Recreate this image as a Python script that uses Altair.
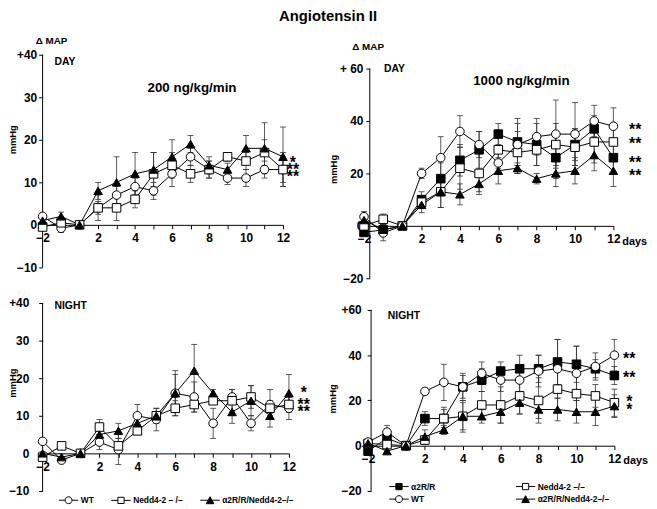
import altair as alt
import pandas as pd

FONT = "Liberation Sans"

# study days (evenly spaced on the axis) and their positions
days = ["-2", "-1", "1", "2", "3", "4", "5", "6", "7", "8", "9", "10", "11", "12"]
x_pos = [-1, 0, 1, 2, 3, 4, 5, 6, 7, 8, 9, 10, 11, 12]

WT = "WT"
NEDD = "Nedd4-2 –/–"
A2R = "α2R/R"
A2RN = "α2R/R/Nedd4-2–/–"

# ---- DAY, 200 ng/kg/min ----
day200_wt = [2, -0.8, 0, 4, 7, 9, 8, 12, 16, 13, 11, 11, 13, 13]
day200_wt_err = [0.5, 1, 0, 1.5, 2, 2, 2, 3, 2, 2, 1.5, 2, 2, 4]
day200_nedd = [-0.5, 0.5, 0, 4, 4, 6, 12, 14, 12, 13, 16, 15, 17, 13]
day200_nedd_err = [0.5, 1, 0, 3, 3, 2, 5, 3, 2, 2, 1, 2, 3, 3]
day200_a2rn = [1, 2, 0, 8, 10, 12, 13, 16, 19, 14, 13, 18, 18, 16]
day200_a2rn_err = [1, 1, 0, 2, 6, 5, 4, 4, 2, 2, 1.5, 3, 6, 7]

# ---- DAY, 1000 ng/kg/min ----
day1000_wt = [3.5, -2.7, 0, 20, 26, 36, 31, 24, 31, 34, 35, 35, 40, 38]
day1000_wt_err = [2, 3, 0, 2, 8, 6, 5, 4, 8, 7, 13, 12, 6, 7]
day1000_a2r = [-2.5, -1.5, 0, 10, 18, 25, 29, 35, 32, 31, 26, 31, 37, 26]
day1000_a2r_err = [1, 1, 0, 3, 6, 6, 7, 4, 9, 8, 8, 6, 5, 6]
day1000_nedd = [0, 2.5, 0, 9, 13, 22, 20, 29, 28, 29, 31, 30, 32, 32]
day1000_nedd_err = [1, 2, 0, 2, 6, 8, 8, 7, 8, 6, 8, 7, 8, 7]
day1000_a2rn = [2.2, -1.5, 0, 8, 13, 12, 16, 21, 22, 18, 20, 21, 27, 21]
day1000_a2rn_err = [2, 2, 0, 3, 6, 4, 3, 5, 2, 2, 5, 5, 6, 6]

# ---- NIGHT, 200 ng/kg/min ----
night200_wt = [3.2, -1.8, 0, 3, 1, 10, 9, 16, 15, 8, 15, 8, 13, 12]
night200_wt_err = [0.5, 0.5, 0, 2, 4, 3, 3, 6, 4, 4, 2, 2, 4, 3]
night200_nedd = [-1, 2, 0, 7, 2, 6, 10, 12, 13, 14, 14, 15, 12, 13]
night200_nedd_err = [0.5, 0.5, 0, 2, 2, 1, 1, 2, 2, 1, 3, 3, 2, 2]
night200_a2rn = [0, -1, 0, 5, 6, 8, 10, 16, 22, 16, 11, 14, 10, 16]
night200_a2rn_err = [0.5, 1, 0, 2, 2, 2, 2, 5, 7, 1, 3, 4, 3, 5]

# ---- NIGHT, 1000 ng/kg/min ----
night1000_wt = [1.6, 6, 0, 24, 28, 26, 32, 29, 29, 33, 34, 32, 35, 40]
night1000_wt_err = [1, 3, 0, 1.5, 8, 6, 5, 5, 5, 7, 13, 12, 6, 7]
night1000_a2r = [-2.4, 3.3, 0, 12, 12, 26, 29, 33, 34, 34, 37, 36, 34, 31]
night1000_a2r_err = [1, 1, 0, 3, 4, 5, 5, 4, 6, 6, 10, 8, 4, 4]
night1000_nedd = [1, 0.5, 0, 2.5, 12, 13, 18, 18, 22, 20, 25, 23, 22, 19]
night1000_nedd_err = [1, 1, 0, 2, 5, 7, 6, 8, 8, 10, 10, 8, 5, 6]
night1000_a2rn = [1.1, -2.4, 0, 4, 7, 13, 13, 15, 19, 16, 16, 15, 15, 17.5]
night1000_a2rn_err = [1, 1, 0, 3, 2, 6, 3, 5, 5, 4, 5, 5, 6, 5]

shape_of = {WT: "circle", NEDD: "square", A2R: "square", A2RN: "triangle-up"}
fill_of = {WT: "white", NEDD: "white", A2R: "black", A2RN: "black"}

CIRC = "M-2.8,0H-1M1,0H2.8M-1,0A1,1,0,1,0,1,0A1,1,0,1,0,-1,0Z"
SQR = "M-2.8,0H-0.9M0.9,0H2.8M-0.9,-0.9H0.9V0.9H-0.9Z"
TRI = "M-2.8,0H-0.55M0.55,0H2.8M0,-1L1.1,1H-1.1Z"
path_of = {WT: CIRC, NEDD: SQR, A2R: SQR, A2RN: TRI}


def make_df(series, order):
    rows = []
    for s in order:
        vals, errs = series[s]
        for p, d, v, e in zip(x_pos, days, vals, errs):
            rows.append({"x": p, "day": d, "series": s, "v": v,
                         "lo": v - e, "hi": v + e, "e": e})
    return pd.DataFrame(rows)


def make_legend(lx, ly, columns, colpad, label_expr=None):
    kw = dict(orient="none", legendX=lx, legendY=ly, direction="horizontal",
              columns=columns, title=None, symbolSize=49, symbolStrokeWidth=1,
              symbolStrokeColor="black", symbolOpacity=1, labelFont=FONT,
              labelFontSize=8.5, labelFontWeight="bold", labelColor="black",
              labelOffset=8, columnPadding=colpad, rowPadding=1, padding=0)
    if label_expr:
        kw["labelExpr"] = label_expr
    return alt.Legend(**kw)


def txt(text, x, y, size, align="left", angle=0):
    return alt.Chart(pd.DataFrame({"t": [text]})).mark_text(
        font=FONT, fontSize=size, fontWeight="bold", color="black",
        align=align, baseline="middle", angle=angle
    ).encode(x=alt.value(x), y=alt.value(y), text="t:N")


def panel(series, order, xmin, yaxis_at, ymin, ytop, ylabel_top, yticks, w, h,
          ylab_pad, plus_text, tag, tag_xy, mmhg_xy, stars, star_dx,
          dmap_xy=None, dose=None, dose_xy=None, days_word=False, legend=None):
    df = make_df(series, order)
    x_off = -h * (0 - ymin) / (ytop - ymin)
    y_off = -w * (yaxis_at - xmin) / (12 - xmin)
    xs = alt.Scale(domain=[xmin, 12], nice=False, zero=False, padding=0)
    ys = alt.Scale(domain=[ymin, ytop], nice=False, zero=False, padding=0)
    xa = alt.Axis(values=x_pos, title=None, grid=False, offset=x_off, tickSize=4,
                  labelPadding=4, labelFlush=False, labelOverlap=False,
                  labelExpr="datum.value == -1 ? '−2' : ((datum.value >= 2 && datum.value % 2 == 0) ? datum.label : '')")
    ya = alt.Axis(values=yticks, title=None, grid=False, domain=False, offset=y_off,
                  tickSize=4, labelPadding=ylab_pad,
                  labelExpr=f"datum.value == {ylabel_top} ? '{plus_text}' : datum.label")

    def X(f):
        return alt.X(f, scale=xs, axis=xa)

    def Y(f):
        return alt.Y(f, scale=ys, axis=ya)

    base = alt.Chart(df)
    eb = base.transform_filter("datum.e > 0")
    rules = eb.mark_rule(color="#333", strokeWidth=0.8).encode(x=X("x:Q"), y=Y("lo:Q"), y2="hi:Q")
    cap_hi = eb.mark_tick(orient="horizontal", size=6, thickness=0.8, color="#333", opacity=1).encode(
        x=X("x:Q"), y=Y("hi:Q"))
    cap_lo = eb.mark_tick(orient="horizontal", size=6, thickness=0.8, color="#333", opacity=1).encode(
        x=X("x:Q"), y=Y("lo:Q"))
    yrule = alt.Chart(pd.DataFrame({"x": [yaxis_at], "y": [ymin], "y2": [ylabel_top]})).mark_rule(
        color="black", strokeWidth=1).encode(x=X("x:Q"), y=Y("y:Q"), y2="y2:Q")
    lines = base.mark_line(color="black", strokeWidth=1).encode(
        x=X("x:Q"), y=Y("v:Q"), detail="series:N")
    shape_scale = alt.Scale(domain=order, range=[shape_of[s] for s in order])
    fill_scale = alt.Scale(domain=order, range=[fill_of[s] for s in order])
    pts = base.mark_point(filled=True, size=75, stroke="black", strokeWidth=1, opacity=1).encode(
        x=X("x:Q"), y=Y("v:Q"),
        shape=alt.Shape("series:N", scale=shape_scale, legend=None),
        fill=alt.Fill("series:N", scale=fill_scale, legend=None))

    sdf = pd.DataFrame({"x": [12] * len(stars), "y": [s[0] for s in stars], "t": [s[1] for s in stars]})
    star_layer = alt.Chart(sdf).mark_text(font=FONT, fontSize=16, fontWeight="bold", color="black",
                                          align="center", baseline="alphabetic", dx=star_dx, dy=9).encode(
        x=X("x:Q"), y=Y("y:Q"), text="t:N")

    layers = [yrule, rules, cap_hi, cap_lo, lines, pts, star_layer,
              txt(tag, tag_xy[0], tag_xy[1], 10.5),
              txt("mmHg", mmhg_xy[0], mmhg_xy[1], 9.5, align="center", angle=270)]
    if dmap_xy:
        layers.append(txt("Δ MAP", dmap_xy[0], dmap_xy[1], 10, align="center"))
    if dose:
        layers.append(txt(dose, dose_xy[0], dose_xy[1], 13.5, align="center"))
    if days_word:
        ddf = pd.DataFrame({"x": [12], "y": [0], "t": ["days"]})
        layers.append(alt.Chart(ddf).mark_text(font=FONT, fontSize=11, fontWeight="bold", color="black",
                                               align="left", baseline="top", dx=9, dy=10).encode(
            x=X("x:Q"), y=Y("y:Q"), text="t:N"))
    if legend is not None:
        lg_shape = alt.Scale(domain=order, range=[path_of[s] for s in order])
        lg_fill = alt.Scale(domain=order, range=[fill_of[s] for s in order])
        lg_stroke = alt.Scale(domain=order, range=["black"] * len(order))
        layers.append(base.mark_point(filled=True, opacity=0, size=1).encode(
            x=X("x:Q"), y=Y("v:Q"),
            shape=alt.Shape("series:N", scale=lg_shape, legend=legend),
            fill=alt.Fill("series:N", scale=lg_fill, legend=legend),
            stroke=alt.Stroke("series:N", scale=lg_stroke, legend=legend)))
    return alt.layer(*layers).resolve_scale(
        shape="independent", fill="independent", stroke="independent").properties(width=w, height=h)


tl = panel({WT: (day200_wt, day200_wt_err), NEDD: (day200_nedd, day200_nedd_err),
            A2RN: (day200_a2rn, day200_a2rn_err)}, [WT, NEDD, A2RN],
           xmin=-1, yaxis_at=-1, ymin=-10, ytop=40, ylabel_top=40, yticks=[-10, 0, 10, 20, 30, 40],
           w=243, h=215, ylab_pad=2, plus_text="+40", tag="DAY", tag_xy=(12, 7),
           mmhg_xy=(-30, 86), stars=[(15.5, "*"), (13.8, "**"), (12.2, "**")], star_dx=10,
           dmap_xy=(9, -14), dose="200 ng/kg/min", dose_xy=(151, 34), legend=None)

tr = panel({A2R: (day1000_a2r, day1000_a2r_err), NEDD: (day1000_nedd, day1000_nedd_err),
            WT: (day1000_wt, day1000_wt_err), A2RN: (day1000_a2rn, day1000_a2rn_err)},
           [A2R, NEDD, WT, A2RN],
           xmin=-1.15, yaxis_at=-0.7, ymin=-20, ytop=65.28, ylabel_top=60, yticks=[-20, 0, 20, 40, 60],
           w=255, h=226, ylab_pad=3, plus_text="+ 60", tag="DAY", tag_xy=(23, 14),
           mmhg_xy=(-27.5, 116), stars=[(38, "**"), (32.8, "**"), (25.6, "**"), (20.4, "**")], star_dx=22,
           dmap_xy=(7, -8), dose="1000 ng/kg/min", dose_xy=(162, 27), days_word=True, legend=None)

bl = panel({WT: (night200_wt, night200_wt_err), NEDD: (night200_nedd, night200_nedd_err),
            A2RN: (night200_a2rn, night200_a2rn_err)}, [WT, NEDD, A2RN],
           xmin=-1, yaxis_at=-1, ymin=-10, ytop=40, ylabel_top=40, yticks=[-10, 0, 10, 20, 30, 40],
           w=249, h=190, ylab_pad=10, plus_text="+40", tag="NIGHT", tag_xy=(12, 3),
           mmhg_xy=(-30, 81), stars=[(17, "*"), (13.8, "**"), (12, "**")], star_dx=15,
           legend=make_legend(22, 195, 3, 15,
                              label_expr="datum.label == 'Nedd4-2 –/–' ? 'Nedd4-2 – /–' : datum.label"))

br = panel({A2R: (night1000_a2r, night1000_a2r_err), NEDD: (night1000_nedd, night1000_nedd_err),
            WT: (night1000_wt, night1000_wt_err), A2RN: (night1000_a2rn, night1000_a2rn_err)},
           [A2R, NEDD, WT, A2RN],
           xmin=-1.365, yaxis_at=-0.84, ymin=-20, ytop=63.06, ylabel_top=60, yticks=[-20, 0, 20, 40, 60],
           w=256, h=190, ylab_pad=6, plus_text="+60", tag="NIGHT", tag_xy=(27, 13),
           mmhg_xy=(-28, 97), stars=[(40, "**"), (31.7, "**"), (21, "*"), (17.6, "*")], star_dx=15,
           days_word=True,
           legend=make_legend(34, 181, 2, 78))

res = dict(x="independent", y="independent", shape="independent", fill="independent",
           stroke="independent")

chart = alt.concat(tl, tr, bl, br, columns=2, bounds="flush",
                   spacing={"row": 25, "column": 73}).resolve_scale(**res).properties(
    title=alt.TitleParams("Angiotensin II", font=FONT, fontSize=15, fontWeight="bold",
                          anchor="middle", color="black", offset=12.5),
    padding={"left": 0, "top": -2.5, "right": 0, "bottom": 0},
).configure_view(stroke=None).configure_axis(
    labelFont=FONT, labelFontSize=12, labelFontWeight="bold", labelColor="black",
    tickColor="black", domainColor="black", tickWidth=1, domainWidth=1,
)

chart.save("out.html", embed_options={"renderer": "svg", "actions": False})
